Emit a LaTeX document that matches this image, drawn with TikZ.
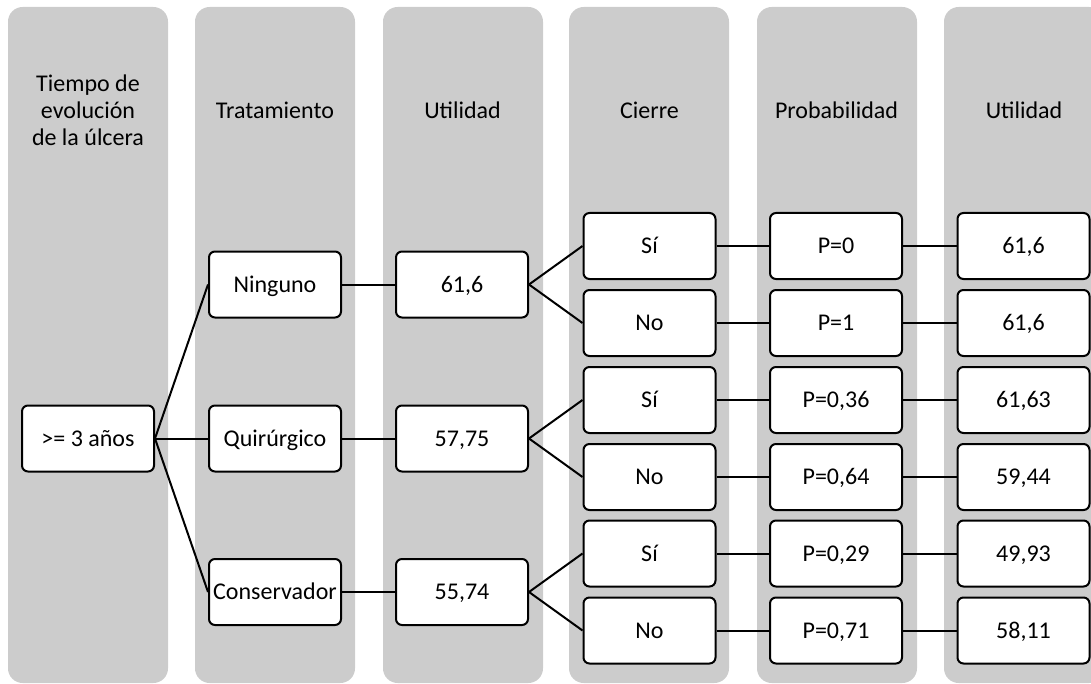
\documentclass[tikz,border=0pt]{standalone}
\usepackage{fontspec}
\setmainfont{Carlito}
\definecolor{lanegray}{HTML}{CCCCCC}
\begin{document}
\begin{tikzpicture}[x=0.75pt,y=-0.75pt,
  lane/.style={fill=lanegray, draw=none, rounded corners=11pt},
  headtxt/.style={align=center, inner sep=0pt, font=\fontsize{18}{20.3}\selectfont},
  box/.style={draw=black, fill=white, line width=1.5pt, rounded corners=4.5pt,
    minimum width=99pt, minimum height=49.5pt, inner sep=0pt,
    text height=11.6pt, text depth=0pt,
    font=\fontsize{18}{21}\selectfont},
  link/.style={line width=1.5pt}]
\useasboundingbox (0,0) rectangle (1091,684);
\begin{scope}
  \clip (0,0) rectangle (1091,684);
  % column lanes
  \foreach \x in {8,195,383,569,757,944}
    \fill[lane] (\x,7) rectangle ++(160,676);
\end{scope}

% column headings
\node[headtxt] (h1) at (88,110) {Tiempo de\\evolución\\de la úlcera};
\node[headtxt] (h2) at (275,110) {Tratamiento};
\node[headtxt] (h3) at (462.5,110) {Utilidad};
\node[headtxt] (h4) at (649.5,110) {Cierre};
\node[headtxt] (h5) at (836.5,110) {Probabilidad};
\node[headtxt] (h6) at (1024,110) {Utilidad};

% decision root
\node[box] (root) at (88,438.5) {>= 3 años};

% treatments
\node[box] (t1) at (275,284.5) {Ninguno};
\node[box] (t2) at (275,438.5) {Quirúrgico};
\node[box] (t3) at (275,592) {Conservador};

% expected utility per treatment
\node[box] (u1) at (462,284.5) {61,6};
\node[box] (u2) at (462,438.5) {57,75};
\node[box] (u3) at (462,592) {55,74};

% closure outcomes
\node[box] (c1) at (649.5,246) {Sí};
\node[box] (c2) at (649.5,323) {No};
\node[box] (c3) at (649.5,400) {Sí};
\node[box] (c4) at (649.5,477) {No};
\node[box] (c5) at (649.5,553.5) {Sí};
\node[box] (c6) at (649.5,630.5) {No};

% probabilities
\node[box] (p1) at (836,246) {P=0};
\node[box] (p2) at (836,323) {P=1};
\node[box] (p3) at (836,400) {P=0,36};
\node[box] (p4) at (836,477) {P=0,64};
\node[box] (p5) at (836,553.5) {P=0,29};
\node[box] (p6) at (836,630.5) {P=0,71};

% outcome utilities
\node[box] (v1) at (1023.5,246) {61,6};
\node[box] (v2) at (1023.5,323) {61,6};
\node[box] (v3) at (1023.5,400) {61,63};
\node[box] (v4) at (1023.5,477) {59,44};
\node[box] (v5) at (1023.5,553.5) {49,93};
\node[box] (v6) at (1023.5,630.5) {58,11};

% connectors
\foreach \t in {1,2,3} {
  \draw[link] (root.east) -- (t\t.west);
  \draw[link] (t\t.east) -- (u\t.west);
}
\draw[link] (u1.east) -- (c1.west);
\draw[link] (u1.east) -- (c2.west);
\draw[link] (u2.east) -- (c3.west);
\draw[link] (u2.east) -- (c4.west);
\draw[link] (u3.east) -- (c5.west);
\draw[link] (u3.east) -- (c6.west);
\foreach \k in {1,...,6} {
  \draw[link] (c\k.east) -- (p\k.west);
  \draw[link] (p\k.east) -- (v\k.west);
}
\end{tikzpicture}
\end{document}
